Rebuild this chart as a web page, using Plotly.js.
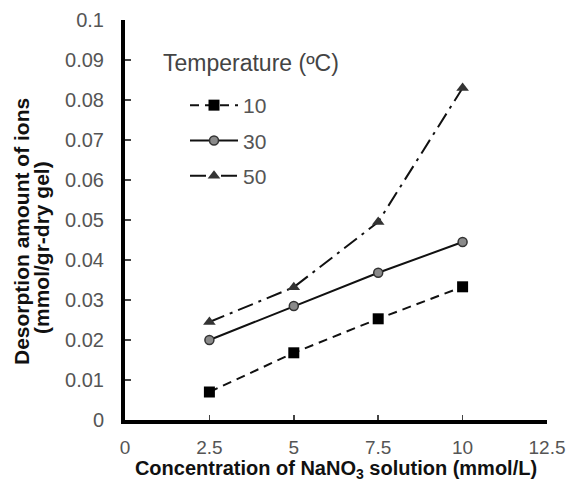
<!DOCTYPE html>
<html>
<head>
<meta charset="utf-8">
<script src="https://cdn.plot.ly/plotly-3.0.1.min.js"></script>
<style>html,body{margin:0;padding:0;background:#fff;}#chart{width:569px;height:482px;}</style>
</head>
<body>
<div id="chart"></div>
<script>
const concentration = [2.5, 5, 7.5, 10];
const temp10 = [0.007, 0.0168, 0.0253, 0.0333];
const temp30 = [0.0200, 0.0285, 0.0368, 0.0445];
const temp50 = [0.0245, 0.0332, 0.0495, 0.0830];
const seriesNames = ['10', '30', '50'];
const xTitle = 'Concentration of NaNO<sub>3</sub> solution (mmol/L)';
const yTitleLines = ['Desorption amount of ions', '(mmol/gr-dry gel)'];
const legendTitle = 'Temperature (ºC)';

const traces = [
  {x: concentration, y: temp10, name: seriesNames[0], legendgroup: 'a', mode: 'lines+markers',
   line: {color: '#111', width: 2, dash: '9px,6px'},
   marker: {symbol: 'square', size: 11, color: '#000'}},
  {x: concentration, y: temp30, name: seriesNames[1], legendgroup: 'b', mode: 'lines+markers',
   line: {color: '#111', width: 2, dash: 'solid'},
   marker: {symbol: 'circle', size: 9, color: '#8a8a8a', line: {color: '#333', width: 1.5}}},
  {x: concentration, y: temp50, name: seriesNames[2], legendgroup: 'c', mode: 'lines+markers',
   line: {color: '#111', width: 2, dash: '16px,6px,3px,6px'},
   marker: {symbol: 'triangle-up', size: 11, color: '#333'}}
];

const L = 125, T = 20, PW = 422, PH = 400;
const px = v => (v - L) / PW;
const py = v => (T + PH - v) / PH;

const layout = {
  width: 569, height: 482,
  margin: {l: L, r: 569 - L - PW, t: T, b: 482 - T - PH},
  paper_bgcolor: '#fff', plot_bgcolor: '#fff',
  font: {family: 'Liberation Sans, Arial, sans-serif', color: '#555'},
  showlegend: true,
  legend: {
    x: px(185), y: py(85), xanchor: 'left', yanchor: 'top',
    bgcolor: 'rgba(0,0,0,0)', font: {size: 21, color: '#555'},
    itemwidth: 48, tracegroupgap: 5
  },
  annotations: [
    {text: legendTitle, xref: 'paper', yref: 'paper', x: px(161), y: py(63), xanchor: 'left', yanchor: 'middle',
     showarrow: false, font: {size: 23, color: '#444'}},
    {text: yTitleLines[0], xref: 'paper', yref: 'paper', x: px(21), y: py(232), xanchor: 'center', yanchor: 'middle',
     textangle: -90, showarrow: false, font: {size: 21, color: '#111', weight: 'bold'}},
    {text: yTitleLines[1], xref: 'paper', yref: 'paper', x: px(41), y: py(248), xanchor: 'center', yanchor: 'middle',
     textangle: -90, showarrow: false, font: {size: 21, color: '#111', weight: 'bold'}}
  ],
  xaxis: {
    range: [0, 12.5], dtick: 2.5, tick0: 0,
    showgrid: false, zeroline: false,
    showline: true, linecolor: '#000', linewidth: 4,
    ticks: 'inside', ticklen: 5, tickwidth: 1.5, tickcolor: '#444',
    tickfont: {size: 19, color: '#555'}, ticklabelstandoff: 7,
    title: {text: xTitle, font: {size: 20, color: '#111', weight: 'bold'}, standoff: 3}
  },
  yaxis: {
    range: [0, 0.1], dtick: 0.01, tick0: 0,
    showgrid: false, zeroline: false,
    showline: true, linecolor: '#000', linewidth: 4,
    ticks: 'inside', ticklen: 6, tickwidth: 1.5, tickcolor: '#444',
    tickfont: {size: 20, color: '#555'}, ticklabelstandoff: 13
  }
};

Plotly.newPlot('chart', traces, layout, {displayModeBar: false, staticPlot: true});
</script>
</body>
</html>
